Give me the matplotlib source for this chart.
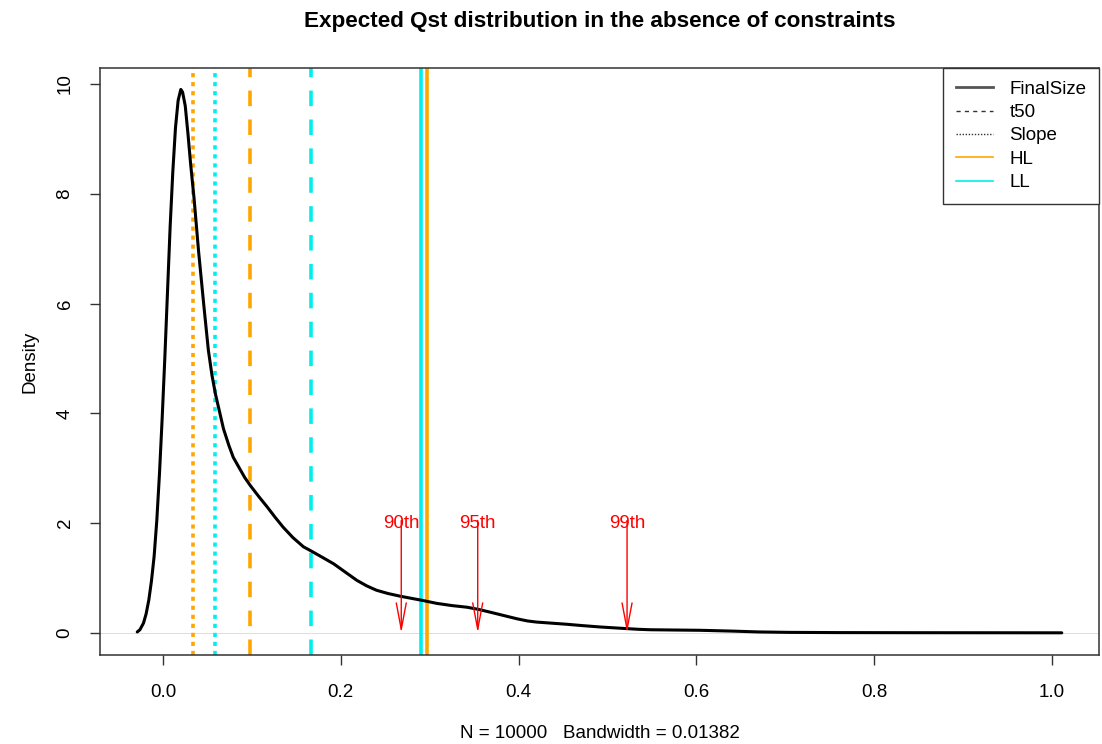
import matplotlib
matplotlib.use("Agg")
import matplotlib.pyplot as plt
from matplotlib.lines import Line2D

plt.rcParams['font.family'] = ['Liberation Sans', 'DejaVu Sans']

# Density curve of simulated Qst
qst_x = [-0.029, -0.026, -0.022, -0.019, -0.016, -0.013, -0.010, -0.007, -0.004,
         -0.001, 0.002, 0.005, 0.008, 0.011, 0.014, 0.017, 0.020, 0.022, 0.025,
         0.028, 0.031, 0.035, 0.040, 0.046, 0.051, 0.055, 0.059, 0.064, 0.068,
         0.074, 0.079, 0.086, 0.092, 0.098, 0.108, 0.117, 0.126, 0.135, 0.146,
         0.158, 0.166, 0.178, 0.192, 0.205, 0.218, 0.229, 0.240, 0.253, 0.267,
         0.280, 0.290, 0.308, 0.325, 0.342, 0.355, 0.368, 0.383, 0.398, 0.410,
         0.420, 0.437, 0.454, 0.472, 0.492, 0.507, 0.522, 0.535, 0.548, 0.575,
         0.604, 0.641, 0.670, 0.705, 0.760, 0.850, 0.950, 1.011]
density = [0.02, 0.06, 0.18, 0.35, 0.60, 0.95, 1.40, 2.05, 2.90,
           3.90, 5.00, 6.20, 7.40, 8.40, 9.20, 9.70, 9.90, 9.85, 9.60,
           9.10, 8.55, 7.90, 6.95, 5.95, 5.15, 4.70, 4.35, 4.00, 3.72,
           3.42, 3.20, 3.00, 2.83, 2.69, 2.48, 2.30, 2.11, 1.93, 1.74,
           1.57, 1.50, 1.39, 1.26, 1.11, 0.96, 0.86, 0.78, 0.72, 0.67,
           0.63, 0.60, 0.54, 0.50, 0.47, 0.43, 0.38, 0.32, 0.26, 0.22,
           0.20, 0.18, 0.16, 0.135, 0.11, 0.095, 0.08, 0.068, 0.06, 0.055,
           0.05, 0.035, 0.02, 0.012, 0.008, 0.006, 0.005, 0.004]

# Observed Qst values per trait and line
traits = ["FinalSize", "t50", "Slope"]
hl_values = [0.297, 0.098, 0.034]
ll_values = [0.290, 0.166, 0.058]

# Quantiles of the expected distribution
quantile_labels = ["90th", "95th", "99th"]
quantile_values = [0.268, 0.354, 0.522]

subtitle = "N = 10000   Bandwidth = 0.01382"
title = "Expected Qst distribution in the absence of constraints"

fig = plt.figure(figsize=(11.02, 7.44), dpi=100)
ax = fig.add_axes([100 / 1102, 89 / 744, 999 / 1102, 587 / 744])

ax.axhline(0, color='#d8d8d8', lw=0.6, zorder=0)

lw_v = 2.6
styles = {
    "FinalSize": dict(linestyle='-'),
    "t50": dict(dashes=(4.3, 3.7)),
    "Slope": dict(dashes=(1.15, 1.35)),
}
for t, v in zip(traits, hl_values):
    ax.axvline(v, color='#FFA500', lw=lw_v, zorder=2, **styles[t])
for t, v in zip(traits, ll_values):
    ax.axvline(v, color='#00EEEE', lw=lw_v, zorder=2, **styles[t])

ax.plot(qst_x, density, color='black', lw=2.2, zorder=3,
        solid_joinstyle='round', solid_capstyle='round')

for lab, q in zip(quantile_labels, quantile_values):
    ax.annotate("", xy=(q, 0), xytext=(q, 2.05),
                arrowprops=dict(arrowstyle="->,head_length=19,head_width=3.6",
                                mutation_scale=1, color='red', lw=1.0,
                                shrinkA=0, shrinkB=0), zorder=4)
    ax.text(q, 2.0, lab, color='red', ha='center', va='center', fontsize=13.5, zorder=5)

ax.set_xlim(-0.0709, 1.0529)
ax.set_ylim(-0.40, 10.29)
ax.set_xticks([0.0, 0.2, 0.4, 0.6, 0.8, 1.0])
ax.set_xticklabels(["0.0", "0.2", "0.4", "0.6", "0.8", "1.0"])
ax.set_yticks([0, 2, 4, 6, 8, 10])
ax.set_yticklabels(["0", "2", "4", "6", "8", "10"], rotation=90, va='center')
ax.tick_params(axis='both', direction='out', length=7, width=1.0, labelsize=13.5, color='#333333')
ax.tick_params(axis='x', pad=14)
ax.tick_params(axis='y', pad=12)
for s in ax.spines.values():
    s.set_linewidth(1.1)
    s.set_color('#333333')

ax.set_ylabel("Density", fontsize=13.5, labelpad=13)
fig.text(600 / 1102, 1 - 733 / 744, subtitle, ha='center', va='center', fontsize=13.5)
fig.text(600 / 1102, 1 - 22 / 744, title, ha='center', va='center', fontsize=16.2, fontweight='bold')

handles = [
    Line2D([], [], color='#555555', lw=2.0),
    Line2D([], [], color='#333333', lw=1.0, dashes=(3, 3)),
    Line2D([], [], color='#333333', lw=1.0, dashes=(1, 1.2)),
    Line2D([], [], color='#FFA500', lw=1.2),
    Line2D([], [], color='#00EEEE', lw=1.2),
]
leg = ax.legend(handles, traits + ["HL", "LL"], loc='upper right', bbox_to_anchor=(1, 1),
                borderaxespad=0, fancybox=False, edgecolor='#333333', framealpha=1,
                fontsize=13.5, handlelength=2.0, handletextpad=0.85, labelspacing=0.33,
                borderpad=0.68)
leg.get_frame().set_linewidth(1.0)

fig.savefig("out.png", dpi=100)
